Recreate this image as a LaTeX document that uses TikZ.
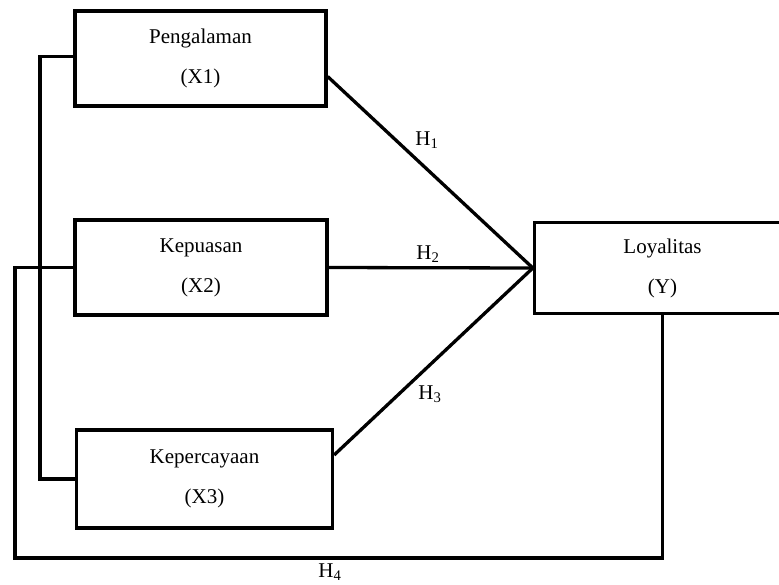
\documentclass[tikz,border=0pt]{standalone}
\usepackage{fontspec}
\setmainfont{Liberation Serif}
\begin{document}
\begin{tikzpicture}[x=1pt,y=-1pt,
  varbox/.style={draw,line width=3.3pt,inner sep=0pt,align=center,
    font=\fontsize{21}{40}\selectfont},
  conn/.style={line width=3.3pt},
  hlab/.style={inner sep=0pt,font=\fontsize{21}{25}\selectfont}]
\useasboundingbox (0,0) rectangle (779,584);
\node[varbox,minimum width=251pt,minimum height=95pt] (x1) at (200.5,58.5) {Pengalaman\\(X1)};
\node[varbox,minimum width=252pt,minimum height=95pt] (x2) at (201,267.5) {Kepuasan\\(X2)};
\node[varbox,minimum width=256pt,minimum height=98pt] (x3) at (204.5,479) {Kepercayaan\\(X3)};
\node[varbox,minimum width=256pt,minimum height=91pt] (y) at (662.5,268) {Loyalitas\\(Y)};
\coordinate (meet) at (y.west);
\draw[conn] ([yshift=-18pt]x1.east) -- (meet);
\draw[conn] (x2.east) -- (meet);
\draw[conn] ([yshift=24pt]x3.east) -- (meet);
\draw[conn] ([yshift=2pt]x1.west) -| (40,479) -- (x3.west);
\draw[conn] (x2.west) -| (15,558) -| (y.south);
\node[hlab] (h1) at (427,140) {H\textsubscript{1}};
\node[hlab] (h2) at (428,254) {H\textsubscript{2}};
\node[hlab] (h3) at (430,394) {H\textsubscript{3}};
\node[hlab] (h4) at (330,572) {H\textsubscript{4}};
\end{tikzpicture}
\end{document}
